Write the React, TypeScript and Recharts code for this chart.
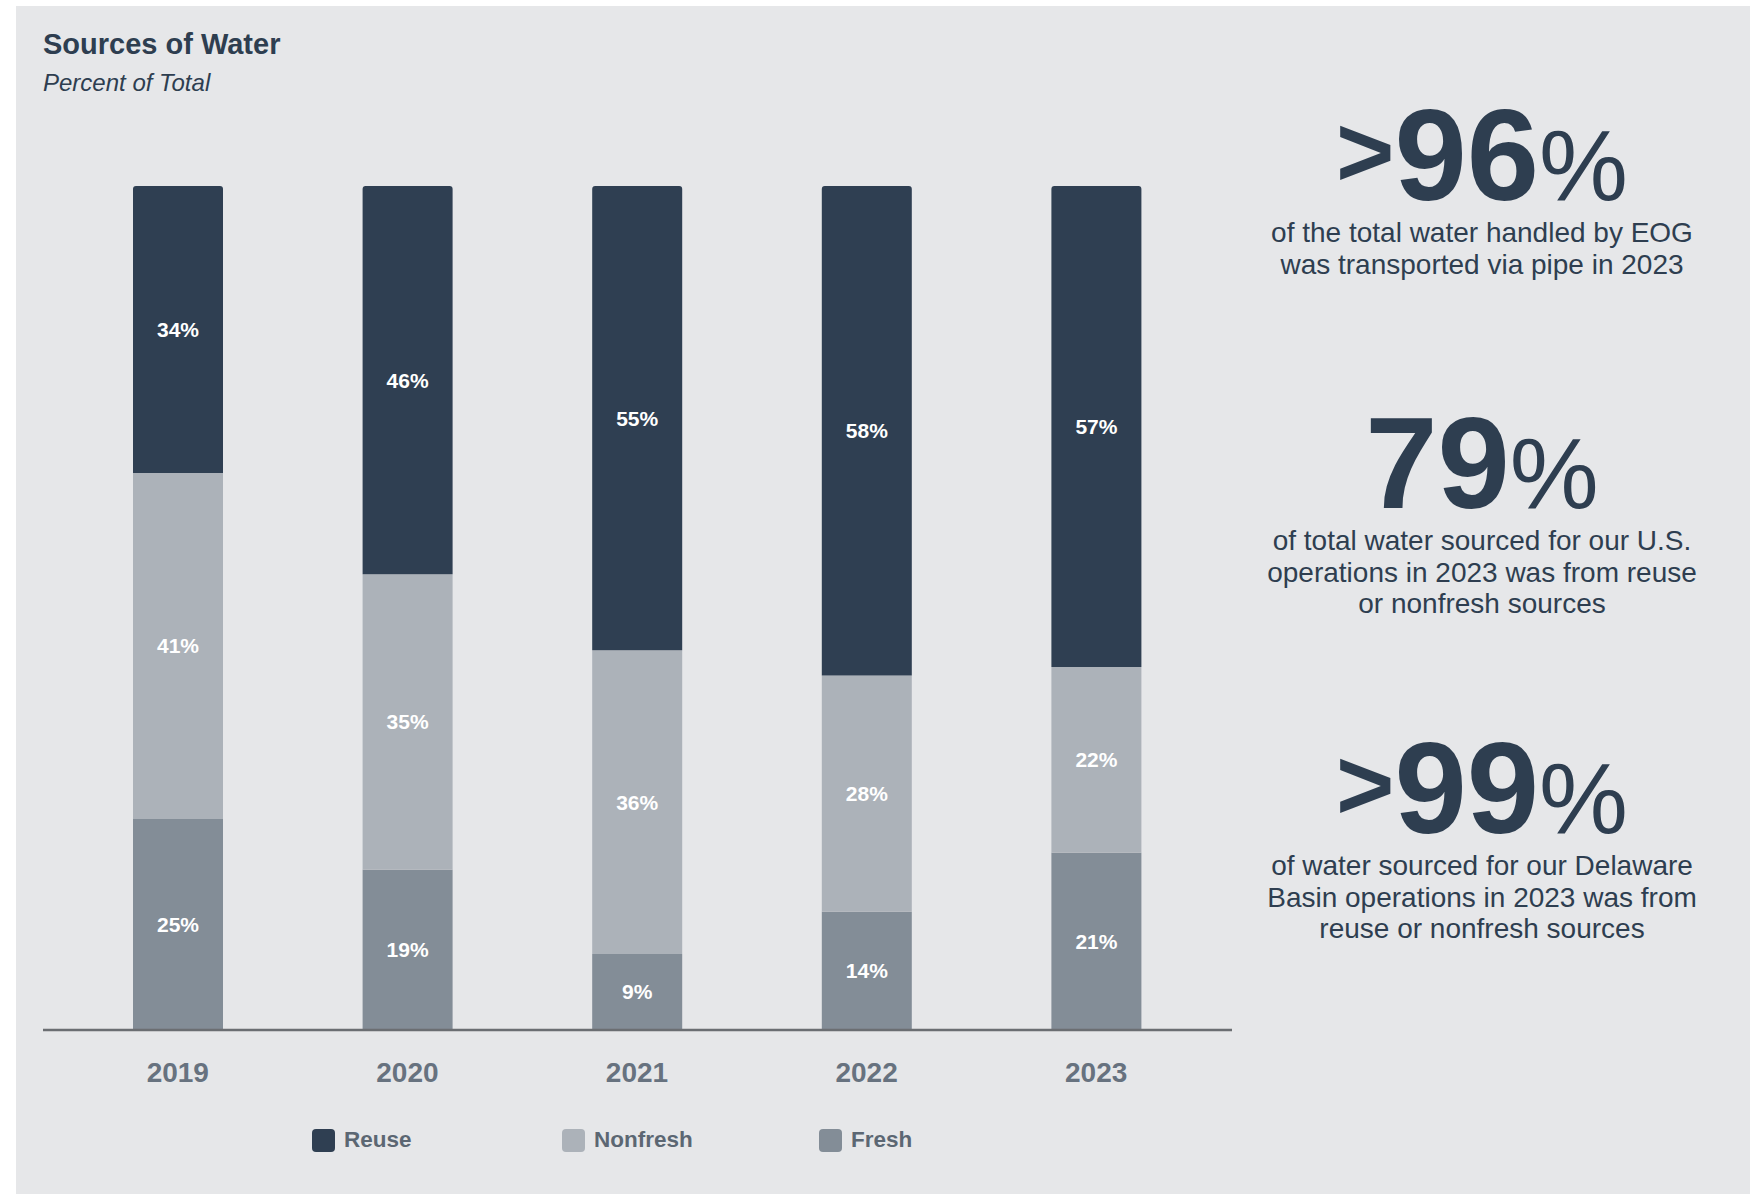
import React from 'react';
import { BarChart, Bar, XAxis, YAxis, Legend, LabelList } from 'recharts';

const years = ['2019', '2020', '2021', '2022', '2023'];
const reuse = [34, 46, 55, 58, 57];
const nonfresh = [41, 35, 36, 28, 22];
const fresh = [25, 19, 9, 14, 21];

const series = [
  { key: 'reuse', name: 'Reuse', color: '#2f3f52' },
  { key: 'nonfresh', name: 'Nonfresh', color: '#acb2b9' },
  { key: 'fresh', name: 'Fresh', color: '#838d97' },
];

const callouts = [
  { prefix: '>', value: '96', lines: ['of the total water handled by EOG', 'was transported via pipe in 2023'] },
  { prefix: '', value: '79', lines: ['of total water sourced for our U.S.', 'operations in 2023 was from reuse', 'or nonfresh sources'] },
  { prefix: '>', value: '99', lines: ['of water sourced for our Delaware', 'Basin operations in 2023 was from', 'reuse or nonfresh sources'] },
];

const data = years.map((year, i) => ({
  year,
  reuse: reuse[i],
  nonfresh: nonfresh[i],
  fresh: fresh[i],
}));

const FONT = '"Liberation Sans", Arial, Helvetica, sans-serif';
const DARK = '#2e3e50';

// layout of the callout column (container coords)
const calloutX = 1466;
const calloutTops = [194, 502, 827];
const legendLeft = [296, 546, 803];

const YearTick = (props: any) => {
  const { x, y, payload } = props;
  return (
    <text x={x} y={y + 52} textAnchor="middle" fontSize={28} fontWeight="bold" fill="#67727f" fontFamily={FONT}>
      {payload.value}
    </text>
  );
};

const LegendContent = () => (
  <div style={{ position: 'relative', height: 94, fontFamily: FONT }}>
    {series.map((s, i) => (
      <div key={s.key} style={{ position: 'absolute', left: legendLeft[i], top: 27, display: 'flex', alignItems: 'center' }}>
        <div style={{ width: 23, height: 23, borderRadius: 4, background: s.color }} />
        <span style={{ marginLeft: 9, fontSize: 22.5, fontWeight: 'bold', color: '#5c6773' }}>{s.name}</span>
      </div>
    ))}
  </div>
);

const App: React.FC = () => {
  const stackOrder = [...series].reverse();
  return (
    <div style={{ position: 'absolute', left: 16, top: 6, width: 1734, height: 1188, background: '#e6e7e9', fontFamily: FONT }}>
      <div style={{ position: 'absolute', left: 0, top: 0 }}>
        <BarChart width={1240} height={1188} data={data} margin={{ top: 180, right: 24, bottom: 0, left: 27 }}>
          <XAxis
            dataKey="year"
            axisLine={{ stroke: '#6b6e72', strokeWidth: 2.5 }}
            tickLine={false}
            tickSize={0}
            tickMargin={0}
            height={70}
            padding={{ left: 20, right: 21 }}
            tick={<YearTick />}
          />
          <YAxis hide domain={[0, 100]} />
          <Legend verticalAlign="bottom" height={94} wrapperStyle={{ left: 0, bottom: 0, width: 1240, height: 94 }} content={<LegendContent />} />
          {stackOrder.map((s, i) => (
            <Bar
              key={s.key}
              dataKey={s.key}
              name={s.name}
              stackId="a"
              fill={s.color}
              barSize={90}
              radius={i === stackOrder.length - 1 ? [3, 3, 0, 0] : 0}
              isAnimationActive={false}
            >
              <LabelList
                dataKey={s.key}
                position="center"
                fill="#ffffff"
                fontSize={21}
                fontWeight="bold"
                fontFamily={FONT}
                formatter={(v: any) => `${v}%`}
              />
            </Bar>
          ))}
        </BarChart>
      </div>
      <svg width={1734} height={1188} style={{ position: 'absolute', left: 0, top: 0, pointerEvents: 'none' }} fontFamily={FONT}>
        <text x={27} y={48} fontSize={29} fontWeight="bold" fill={DARK}>Sources of Water</text>
        <text x={27} y={85} fontSize={24} fontStyle="italic" fill={DARK}>Percent of Total</text>
        {callouts.map((c, i) => (
          <g key={i}>
            <text x={calloutX} y={calloutTops[i]} textAnchor="middle" fill={DARK}>
              {c.prefix && <tspan fontSize={100} fontWeight="bold" dy={-14}>{c.prefix}</tspan>}
              <tspan fontSize={130} fontWeight="bold" dy={c.prefix ? 14 : 0}>{c.value}</tspan>
              <tspan fontSize={100}>%</tspan>
            </text>
            {c.lines.map((line, j) => (
              <text key={j} x={calloutX} y={calloutTops[i] + 42 + j * 31.5} textAnchor="middle" fontSize={28} fill={DARK}>
                {line}
              </text>
            ))}
          </g>
        ))}
      </svg>
    </div>
  );
};

export default App;
